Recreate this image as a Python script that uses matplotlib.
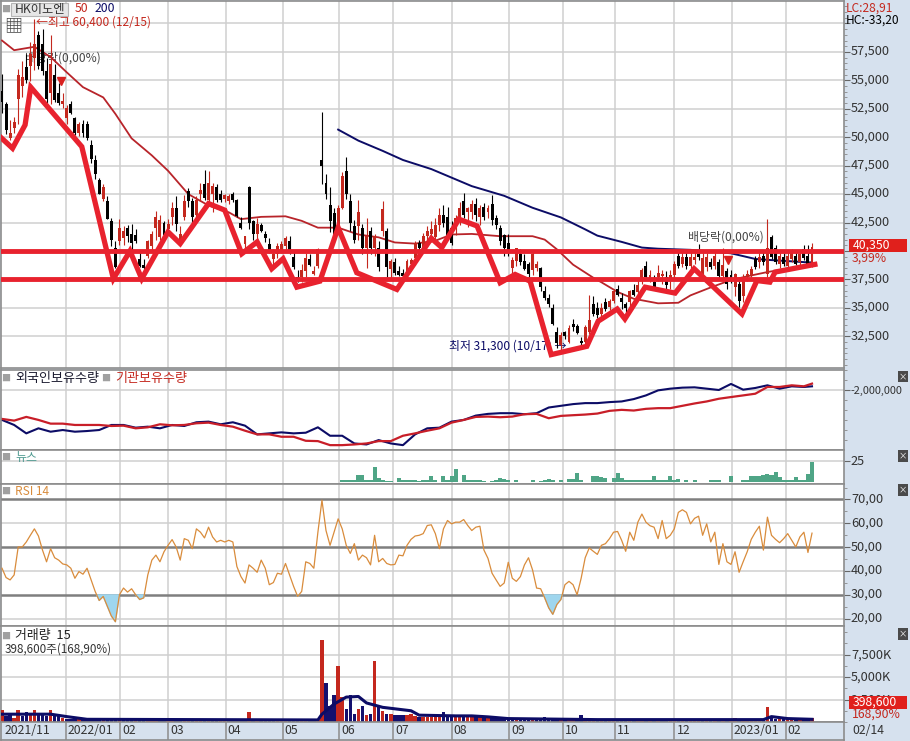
import numpy as np
import matplotlib
matplotlib.use('Agg')
import matplotlib.pyplot as plt
from matplotlib.patches import Rectangle
from matplotlib.ticker import MultipleLocator, NullFormatter
from matplotlib.transforms import ScaledTranslation

plt.rcParams['font.family'] = ['Noto Sans CJK KR', 'DejaVu Sans']

# candle data, hundreds of won, one entry per session
opens = [541,529,499,508,534,545,562,563,570,590,
582,558,539,555,539,529,517,529,517,504,
512,512,493,480,462,446,444,426,403,409,
411,420,415,414,393,388,396,404,420,412,
425,419,430,438,410,430,453,444,432,450,
459,445,450,456,450,446,444,450,445,425,
406,456,426,415,423,415,406,393,397,401,
404,409,395,377,377,382,393,380,387,480,
460,440,433,423,438,470,444,422,422,420,
403,418,403,403,418,418,384,390,382,381,
382,389,394,407,403,413,415,412,423,432,
430,420,419,429,444,434,434,441,430,439,
434,441,429,420,414,407,385,391,397,391,
389,383,385,385,365,359,350,329,317,329,
320,336,334,321,320,329,353,350,345,355,
351,356,367,359,353,355,366,364,374,387,
375,373,377,378,377,374,379,396,389,395,
387,392,397,380,386,390,387,390,378,382,
379,368,371,360,377,379,393,390,396,380,
412,403,389,395,387,393,396,390,402,396,389]
highs = [556,531,515,518,560,567,573,584,604,593,
595,570,590,564,548,539,528,532,518,513,
515,514,498,484,464,459,448,429,409,428,
422,423,424,419,401,393,410,418,435,432,
426,428,443,448,422,449,455,447,448,460,
471,470,460,459,454,450,450,452,446,430,
413,457,427,429,425,418,411,402,407,409,
413,413,399,383,389,398,397,387,403,522,
468,456,438,440,469,483,450,427,445,424,
429,421,415,409,444,420,393,394,387,384,
393,394,409,410,416,422,426,429,438,440,
439,426,432,443,451,439,445,447,440,442,
440,449,432,423,415,415,395,403,402,397,
390,399,391,386,369,362,353,333,329,330,
335,340,336,324,335,361,360,355,354,359,
358,367,370,363,355,366,371,375,385,391,
383,379,388,383,382,383,391,400,399,399,
399,400,406,398,398,394,400,393,403,385,
383,381,374,380,383,387,396,398,400,428,
414,405,399,398,400,402,400,400,405,405,407]
lows = [521,503,498,504,512,535,548,549,559,560,
555,530,529,531,528,526,512,520,502,501,
500,498,477,463,450,444,428,404,385,405,
405,408,399,407,386,384,394,400,410,410,
412,416,423,418,408,427,439,424,430,444,
445,440,434,443,443,443,441,443,430,419,
402,419,410,410,417,408,398,388,394,398,
401,397,384,373,373,377,387,379,385,459,
446,417,411,417,437,446,418,407,410,397,
385,397,396,382,413,377,376,379,378,377,
379,386,388,399,398,404,408,407,418,421,
410,405,414,423,429,421,428,426,423,427,
429,423,419,405,396,396,381,387,388,383,
377,379,382,365,357,351,335,315,313,323,
319,330,327,317,318,327,343,341,342,347,
348,354,360,349,343,350,360,362,371,375,
373,367,374,371,367,367,376,385,386,384,
382,389,392,376,382,384,384,376,374,367,
372,360,351,355,374,377,384,385,388,377,
393,389,385,387,384,390,388,388,392,388,386]
closes = [531,506,504,513,555,553,550,573,582,563,
558,534,564,533,530,532,526,521,504,512,
504,499,481,468,450,456,428,410,386,420,
418,413,407,409,387,385,409,415,430,427,
414,424,438,424,415,444,444,430,445,454,
447,460,457,445,445,449,448,445,431,420,
413,425,415,424,418,411,401,397,404,406,
411,400,386,375,383,394,388,382,402,475,
450,426,412,438,466,450,425,410,434,403,
413,403,413,386,437,386,391,381,379,378,
391,392,407,403,413,418,419,423,432,425,
413,407,429,438,432,438,441,432,438,430,
438,427,423,409,403,401,392,403,390,384,
380,397,389,368,359,353,336,319,326,325,
332,333,328,319,333,339,345,344,350,349,
356,365,361,355,350,365,361,370,383,377,
379,368,381,380,370,379,389,387,395,387,
395,395,395,394,395,386,396,378,388,371,
376,380,356,377,380,384,386,395,390,403,
395,390,396,389,396,398,389,397,394,389,403.5]

ma50_sessions = [0,3,8,12,16,20,25,28,32,37,41,46,51,56,59,64,70,74,78,83,88,93,97,102,107,111,116,
                 123,131,134,137,141,146,148,152,156,162,167,170,175,180,185,189,194,200]
ma50_values = [58500,57650,57950,57050,55700,54400,53500,52050,49900,48400,47050,45000,44000,43400,42800,
               43000,43050,42650,42050,42050,41450,41200,40750,40650,40900,41450,41500,41300,41300,41000,
               40150,38800,37650,37250,36400,35800,35400,35450,36100,36800,37450,37850,38150,38450,38750]
ma200_sessions = [83,88,94,99,106,110,116,124,131,138,144,147,153,158,162,170,180,186,190,199,200]
ma200_values = [50670,49700,48800,48000,47200,46600,45700,44850,43800,42950,41900,41350,40800,40300,
                40200,40100,39800,39300,39200,39000,39000]

# hand drawn trend line and support / resistance on the chart
trend_sessions = [-0.5,2.6,5.7,7.1,19.7,27.5,31.6,34.5,41,44,51,55,59.2,63,66.6,69.4,72.8,78.5,83,87.6,97.5,
                  106,108.6,112.8,117.3,123,126.7,130.4,135.6,144.4,147.2,151.9,153.8,158.8,166.2,170.9,
                  182.7,186.4,189.6,190.9,200.7]
trend_values = [50050,49030,51080,54400,49170,37560,40000,37560,41680,40650,44170,43590,39760,40800,38440,
                39320,36820,37350,42060,38090,36620,41120,40300,42800,42200,37210,37940,37350,30890,31620,
                33830,34900,34030,36820,36300,38440,34470,37400,37260,38150,38820]
levels = [40000, 37500]

price_ticks = [32500,35000,37500,40000,42500,45000,47500,50000,52500,55000,57500,60000]
price_labels = {32500:'32,500',35000:'35,000',37500:'37,500',42500:'42,500',45000:'45,000',47500:'47,500',
                50000:'50,000',52500:'52,500',55000:'55,000',57500:'57,500'}

hold_sessions = list(range(0, 199, 3)) + [200]
foreign_k = [-2750,-2875,-3083,-2958,-3042,-3000,-3042,-3025,-3000,-2875,-2875,-2942,-2917,-2958,-2875,-2900,
             -2808,-2792,-2858,-2808,-2892,-3108,-3083,-3058,-3083,-3067,-2933,-3142,-3142,-3333,-3358,-3250,
             -3333,-3375,-3108,-2958,-2942,-2792,
             -2750,-2642,-2600,-2583,-2583,-2608,-2583,-2442,-2400,-2358,-2333,-2333,-2308,-2292,-2233,-2142,
             -2017,-1975,-1950,-1942,-1975,-2008,-1858,-2000,-1958,-1892,-1975,-1917,-1933,-1917]
inst_k = [-2725,-2767,-2675,-2750,-2842,-2842,-2875,-2875,-2875,-2900,-2892,-2958,-2933,-2858,-2883,-2875,
          -2833,-2817,-2875,-2917,-3017,-3108,-3108,-3167,-3167,-3267,-3275,-3375,-3375,-3358,-3333,-3275,
          -3275,-3142,-3083,-3017,-2958,-2817,
          -2750,-2675,-2667,-2683,-2667,-2608,-2600,-2708,-2650,-2633,-2617,-2592,-2525,-2500,-2517,-2475,
          -2458,-2458,-2400,-2342,-2292,-2225,-2183,-2142,-2100,-1933,-1933,-1892,-1917,-1850]

news_first = 84
news_counts = [2,2,3,3,8,8,3,3,18,5,3,1,1,0,5,3,3,3,3,1,2,2,7,2,0,7,3,7,
               15,0,8,3,3,3,3,1,0,1,2,5,4,2,0,3,0,0,0,2,0,1,2,4,3,0,2,0,4,4,
               11,3,0,0,7,7,6,5,0,5,11,5,3,2,2,2,2,2,3,7,2,2,2,7,2,4,0,3,0,2,
               0,0,0,2,3,2,0,0,7,0,0,3,3,7,7,7,8,10,8,12,6,2,2,2,6,2,3,9,24]

rsi = [41.2,37.3,36.3,38.4,50.1,50.1,52.2,55,57.7,54.7,48.8,43.9,49.4,45.6,44.6,43,42.6,41.2,37,39.8,
       38.7,41.2,36.3,31.5,27.7,29.4,25.3,21.2,18.8,30.1,32.9,31.2,32.6,30.1,28.1,28.8,38.4,44.6,46.7,43.9,
       48.1,50.8,53.2,50.1,44.6,53.6,52.9,49.4,57.7,56.3,53.9,58.4,54.3,52.2,52.9,52.2,52.9,52.2,41.9,37.7,
       35,42.6,41.2,39.5,44.6,41.2,34.3,35.2,39.1,38.7,43.2,38.4,33.6,29.4,31.5,43.9,43.2,41.2,56.3,69.7,
       57,50.8,56.3,61.9,57.7,50.8,47.4,51.5,44.6,46.7,45.6,42.6,55,43.9,45.3,43.2,42.6,42.8,46.7,46.4,
       50.8,53.3,54.7,55,55.7,59.1,59.4,55.7,49.4,57.7,61.2,59.8,60.5,60.5,61.6,59.1,57,58.4,58.8,48.8,
       45.3,39.1,36.3,33.6,35,43.7,37,35.7,37.7,42.6,45.6,40.5,32.9,32.6,28.8,24.6,21.9,26,28.1,34.3,
       35.7,34.3,30.1,37,45.6,49.7,48.3,47,50.8,51.5,53.6,56.3,56.6,52.9,48.3,56.3,52.9,60.5,63.9,60.5,
       59,58.4,53.6,61.2,53.6,55,57.7,64.6,65.7,64.6,59.8,62.1,63,55,59.8,52.2,56.3,42.8,51.5,43.9,
       42.8,48.1,39.5,43.9,48.1,53.3,56.3,58.8,48.8,62.6,55,53.3,51.9,53.6,55.7,52.9,50.1,54.3,56.3,47.8,55.9]
rsi_levels = [30, 50, 70]
rsi_grid = [20, 40, 60]
rsi_labels = ['20,00','30,00','40,00','50,00','60,00','70,00']

volume_k = [1330,680,760,460,1330,680,1140,840,1330,950,
760,680,1330,680,680,460,300,300,300,300,
230,230,230,270,230,230,230,270,230,300,
300,230,270,270,230,190,230,230,270,230,
190,230,270,230,190,190,190,230,230,230,
340,300,230,190,190,150,190,230,190,230,
230,1140,270,230,300,230,190,190,230,270,
230,270,230,230,300,190,230,230,190,9100,
4290,1820,2960,6270,2770,1440,2960,870,1440,1820,
760,870,6840,1820,1250,870,870,760,760,760,
760,870,680,610,530,530,530,870,530,1140,
610,530,530,680,570,570,570,570,570,530,
530,460,460,380,340,300,300,340,300,300,
300,300,340,340,530,300,270,270,300,300,
300,340,340,800,340,270,270,270,230,230,
230,270,230,230,230,230,270,230,230,270,
230,230,270,230,230,230,230,270,230,230,
230,270,230,230,230,230,270,230,230,230,
270,460,230,270,270,270,230,300,340,1710,
680,380,380,380,380,380,380,380,380,380,398.6]
vol_ma_sessions = [0,12,16,21,78,79,82,85,88,90,94,101,103,112,116,120,125,147,188,190,194,200]
vol_ma_k = [870,870,600,300,230,870,2000,2770,2840,2120,1630,1250,760,680,680,570,380,265,265,600,380,300]

month_sessions = [0,15.7,29.1,41,55.2,69.3,83.2,96.5,111,125.2,138.5,151.4,166,180.2,193.5]
month_labels = ['2021/11','2022/01','02','03','04','05','06','07','08','09','10','11','12','2023/01','02']

BG = '#d6e1ee'
GRID = '#cfcfcf'
EDGE = '#8c8c8c'
UP = '#c4281e'
NAVY = '#0c0c66'
THICK = '#e8222e'
W, H = 910, 741


def pane(top, bottom, left=1, right=844):
    ax = fig.add_axes([left/W, 1-bottom/H, (right-left)/W, (bottom-top)/H])
    ax.set_xlim((1-2)/4.05, (844-2)/4.05)
    ax.yaxis.tick_right()
    for s in ax.spines.values():
        s.set_color(EDGE)
        s.set_linewidth(1.2)
    ax.tick_params(axis='y', which='major', length=4, width=0.8, color='#666666', labelsize=9.2,
                   labelcolor='#333333', pad=1)
    ax.tick_params(axis='y', which='minor', length=2.5, width=0.6, color='#888888')
    ax.set_xticks(month_sessions[1:])
    ax.tick_params(axis='x', length=0, labelbottom=False)
    ax.grid(True, axis='x', color=GRID, lw=1.1)
    ax.set_axisbelow(True)
    return ax


def lift_labels(ax, px=2):
    # the tick numbers sit slightly above their ticks in the original
    for t in ax.get_yticklabels():
        t.set_transform(t.get_transform()+ScaledTranslation(0, px/100, fig.dpi_scale_trans))


def square(y, x=6):
    fig.text(x/W, 1-y/H, '■', color='#a0a0a0', fontsize=6.5, ha='center', va='center')


def close_box(y):
    fig.text(903/W, 1-y/H, '×', color='white', fontsize=6, ha='center', va='center',
             bbox=dict(boxstyle='square,pad=0.15', fc='#4a4a4a', ec='none'))


def box(x0, y0, x1, y1, **kw):
    fig.add_artist(Rectangle((x0/W, 1-y1/H), (x1-x0)/W, (y1-y0)/H, transform=fig.transFigure, **kw))


fig = plt.figure(figsize=(W/100, H/100), dpi=100, facecolor=BG)

o = np.array(opens)*100
h = np.array(highs)*100
l = np.array(lows)*100
c = np.array(closes)*100
x = np.arange(len(o))
up = c >= o

# price pane
ax = pane(1, 368)
ax.set_ylim(29715, 61975)
ax.set_yticks(price_ticks)
ax.set_yticklabels([price_labels.get(t, '') for t in price_ticks])
ax.yaxis.set_minor_locator(MultipleLocator(500))
ax.yaxis.set_minor_formatter(NullFormatter())
ax.grid(True, axis='y', color=GRID, lw=1.1)
lift_labels(ax)
ax.text(23/4.05, 57000, '배당락(0,00%)', fontsize=8.6, color='#444444', va='center')
ax.text(110.3, 31650, '최저 31,300 (10/17) →', fontsize=8.6, color=NAVY, va='center', zorder=2)
ax.text(169.3, 41200, '배당락(0,00%)', fontsize=8.6, color='#444444', va='center')
ax.plot(ma50_sessions, ma50_values, color='#b8242a', lw=1.3, zorder=3)
ax.plot(ma200_sessions, ma200_values, color=NAVY, lw=1.4, zorder=3)
ax.vlines(x[up], l[up], h[up], color=UP, lw=0.8, zorder=4)
ax.vlines(x[~up], l[~up], h[~up], color='black', lw=0.8, zorder=4)
ax.bar(x[up], (c-o)[up], bottom=o[up], width=0.72, color=UP, zorder=5)
ax.bar(x[~up], (o-c)[~up], bottom=c[~up], width=0.72, color='black', zorder=5)
for lv in levels:
    ax.axhline(lv, color=THICK, lw=3.5, zorder=6)
ax.plot(trend_sessions, trend_values, color=THICK, lw=3.8, solid_joinstyle='miter', zorder=7)
ax.plot([14.6, 179.3], [54950, 39200], 'v', color='#d8201f', ms=6, zorder=8)
ax.text(8.4, 60140, '←최고 60,400 (12/15)', fontsize=8.6, color=UP, va='center', zorder=8)

# holdings pane
ax2 = pane(369.5, 449.5)
ax2.set_ylim(-3483000, -1500000)
ax2.set_yticks([-2000000])
ax2.set_yticklabels(['-2,000,000'])
ax2.tick_params(axis='y', which='major', labelsize=7.9)
ax2.yaxis.set_minor_locator(MultipleLocator(250000))
ax2.yaxis.set_minor_formatter(NullFormatter())
ax2.grid(True, axis='y', color=GRID, lw=1.1)
lift_labels(ax2, 0)
ax2.plot(hold_sessions, np.array(foreign_k)*1000, color=NAVY, lw=1.5)
ax2.plot(hold_sessions, np.array(inst_k)*1000, color='#c81e28', lw=1.6)

# news pane
ax3 = pane(449.5, 483.5)
ax3.set_ylim(-1.5, 38)
ax3.set_yticks([25])
ax3.set_yticklabels(['25'])
ax3.grid(True, axis='y', color=GRID, lw=1.1)
lift_labels(ax3, 1)
ax3.bar(np.arange(news_first, news_first+len(news_counts)), news_counts, width=1.0, color='#4fa586')

# rsi pane
ax4 = pane(483.5, 626)
ax4.set_ylim(17, 76.7)
ax4.set_yticks(sorted(rsi_levels+rsi_grid))
ax4.set_yticklabels(rsi_labels)
ax4.yaxis.set_minor_locator(MultipleLocator(5))
ax4.yaxis.set_minor_formatter(NullFormatter())
lift_labels(ax4)
for g in rsi_grid:
    ax4.axhline(g, color=GRID, lw=1.1, zorder=1)
for lv in rsi_levels:
    ax4.axhline(lv, color='#7f7f7f', lw=1.8, zorder=1.5)
r = np.array(rsi)
ax4.fill_between(x, r, 30, where=r < 30, interpolate=True, color='#9fd6ee', zorder=2)
ax4.plot(x, r, color='#d98c3c', lw=0.9, zorder=3)

# volume pane
ax5 = pane(626, 722)
ax5.set_ylim(0, 10680)
ax5.set_yticks([2500, 5000, 7500])
ax5.set_yticklabels(['2,500K', '5,000K', '7,500K'])
ax5.yaxis.set_minor_locator(MultipleLocator(1250))
ax5.yaxis.set_minor_formatter(NullFormatter())
ax5.grid(True, axis='y', color=GRID, lw=1.1)
lift_labels(ax5, 1)
prev = np.concatenate([[c[0]], c[:-1]])
vup = c >= prev
v = np.array(volume_k)
ax5.bar(x[~vup], v[~vup], width=0.85, color='#14106e', zorder=3)
ax5.bar(x[vup], v[vup], width=0.85, color=UP, zorder=3)
ax5.plot(vol_ma_sessions, vol_ma_k, color=NAVY, lw=2.2, zorder=4)

# date strip
ax6 = pane(722, 740)
ax6.set_facecolor(BG)
ax6.set_ylim(0, 1)
ax6.set_yticks([])
ax6.grid(True, axis='x', color=EDGE, lw=1.1)
for pos, lab in zip(month_sessions, month_labels):
    ax6.annotate(lab, (pos, 0.5), xytext=(1.5, 0), textcoords='offset points', fontsize=8.8,
                 color='#333333', va='center', ha='left')

# pane titles and header
box(11, 3, 68, 16, fc='#e6e6e6', ec='#b5b5b5', lw=0.8)
fig.text(15/W, 1-9/H, 'HK이노엔', fontsize=8.8, color='#333333', va='center')
square(9)
fig.text(75/W, 1-9/H, '50', fontsize=8.8, color=UP, va='center')
fig.text(95/W, 1-9/H, '200', fontsize=8.8, color=NAVY, va='center')
fig.text(13/W, 1-26.5/H, '▦', fontsize=13, color='#444444', ha='center', va='center')
square(378)
fig.text(15/W, 1-378/H, '외국인보유수량', fontsize=9.4, color='#1a1a2e', va='center')
square(378, 106)
fig.text(115/W, 1-378/H, '기관보유수량', fontsize=9.4, color=UP, va='center')
square(457.5)
fig.text(15/W, 1-457.5/H, '뉴스', fontsize=8.6, color='#4f9a90', va='center')
square(491.5)
fig.text(15/W, 1-491.5/H, 'RSI 14', fontsize=8.6, color='#d98c3c', va='center')
square(636)
fig.text(15/W, 1-636/H, '거래량  15', fontsize=9.3, color='#222222', va='center')
fig.text(5/W, 1-649/H, '398,600주(168,90%)', fontsize=8.4, color='#333333', va='center')

# right strip labels
fig.text(846/W, 1-8/H, 'LC:28,91', fontsize=8.6, color=UP, va='center')
fig.text(846/W, 1-20/H, 'HC:-33,20', fontsize=8.6, color='black', va='center')
box(849, 239, 907, 252, fc='#e0201c', ec='none')
fig.text(853/W, 1-245.5/H, '40,350', fontsize=8.8, color='white', va='center')
fig.text(852/W, 1-258/H, '3,99%', fontsize=8.8, color=UP, va='center')
box(849, 696, 907, 709, fc='#e0201c', ec='none')
fig.text(853/W, 1-702.5/H, '398,600', fontsize=8.8, color='white', va='center')
fig.text(852/W, 1-714/H, '168,90%', fontsize=8.8, color=UP, va='center')
fig.text(852/W, 1-731/H, '02/14', fontsize=8.8, color='#333333', va='center')
for y in [376.7, 456, 490, 634]:
    close_box(y)

fig.savefig('out.png', dpi=100, facecolor=BG)
